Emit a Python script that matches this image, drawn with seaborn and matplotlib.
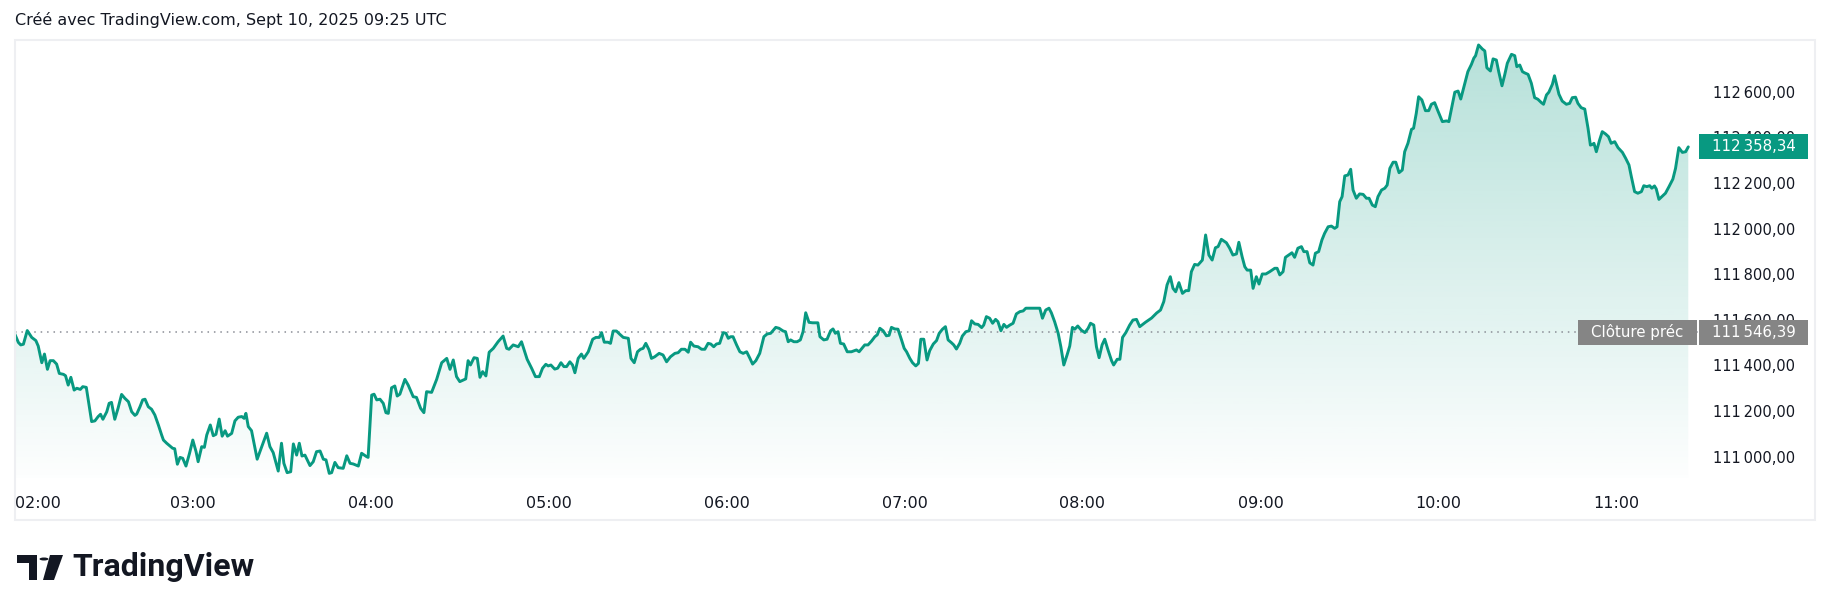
import numpy as np
import pandas as pd
import seaborn as sns
import matplotlib.pyplot as plt
from matplotlib.patches import Rectangle, Polygon, Circle
from matplotlib.colors import to_rgb
from matplotlib.transforms import IdentityTransform

sns.set_theme(style="white")
plt.rcParams['font.family'] = ['DejaVu Sans']

# minutes after 02:00 (UTC+2) and BTC price
minutes = [
    0.0, 1.3, 2.1, 3.0, 4.3, 5.8, 7.2, 8.0, 9.2, 10.1, 11.1, 12.0, 13.1, 14.2, 15.1, 16.5, 17.2, 18.1, 19.0, 20.1,
    21.0, 22.2, 23.0, 24.2, 26.0, 27.1, 28.2, 29.0, 29.8, 31.1, 31.9, 32.7, 33.8, 34.9, 36.1, 37.2, 38.4, 39.5, 40.6, 41.2,
    42.3, 43.2, 44.0, 45.1, 46.2, 47.3, 48.5, 49.6, 50.2, 51.3, 52.4, 53.3, 54.0, 54.9, 55.8, 56.7, 57.8, 59.0, 60.1, 61.2,
    61.9, 63.1, 64.0, 64.8, 66.0, 67.0, 67.9, 69.0, 70.0, 71.0, 71.8, 73.2, 74.3, 75.4, 76.6, 77.4, 78.0, 78.8, 79.9, 81.8,
    85.0, 86.1, 87.2, 88.9, 90.0, 90.8, 91.9, 93.1, 94.0, 95.1, 96.0, 96.9, 97.9, 99.6, 100.7, 101.8, 103.0, 104.1, 105.0, 106.1,
    106.9, 108.0, 109.1, 110.8, 112.0, 113.1, 114.2, 115.9, 117.0, 118.7, 119.2, 120.4, 121.2, 122.1, 123.2, 124.3, 125.2, 126.0, 127.1, 128.2,
    129.0, 129.9, 131.6, 132.7, 134.4, 135.5, 136.9, 138.0, 138.9, 140.6, 142.3, 144.0, 145.7, 146.8, 147.9, 149.0, 150.1, 152.1, 152.9, 153.7,
    154.9, 156.0, 156.9, 157.8, 158.9, 160.0, 161.4, 163.0, 164.7, 165.9, 166.7, 168.1, 169.8, 170.9, 172.8, 174.3, 175.6, 176.9, 178.0, 179.1,
    179.9, 180.8, 182.1, 183.1, 184.2, 185.2, 186.1, 187.2, 188.1, 188.9, 190.0, 191.1, 191.9, 193.4, 194.9, 196.0, 197.1, 197.9, 198.8, 200.0,
    200.9, 201.8, 202.9, 204.0, 205.2, 206.9, 207.8, 208.9, 210.0, 211.0, 211.9, 212.8, 213.9, 214.7, 215.8, 217.3, 218.6, 219.8, 221.1, 222.6,
    223.7, 224.8, 226.0, 227.1, 227.9, 229.0, 230.4, 231.6, 232.7, 233.8, 234.7, 235.7, 236.6, 237.7, 238.9, 239.8, 240.6, 241.4, 242.2, 243.4,
    244.5, 245.6, 246.8, 247.9, 248.8, 249.9, 251.2, 252.6, 253.7, 254.9, 256.6, 257.7, 259.1, 259.9, 260.8, 261.6, 262.7, 263.8, 264.9, 265.8,
    266.7, 267.8, 269.0, 270.8, 271.5, 272.8, 273.9, 275.1, 275.9, 276.7, 277.6, 278.4, 279.5, 280.7, 282.1, 283.8, 284.7, 286.6, 287.7, 288.9,
    290.0, 290.8, 291.7, 292.8, 293.9, 294.8, 295.6, 296.7, 297.8, 299.0, 299.9, 300.7, 301.8, 302.7, 303.8, 304.7, 305.5, 306.5, 307.6, 308.5,
    309.7, 310.8, 311.7, 312.8, 313.8, 314.7, 315.8, 316.6, 317.5, 318.6, 319.5, 320.7, 321.8, 322.6, 323.7, 324.8, 326.0, 326.7, 327.6, 328.7,
    329.7, 330.7, 331.5, 332.5, 333.5, 334.4, 335.5, 336.6, 337.7, 338.9, 340.0, 340.9, 342.8, 344.3, 345.6, 346.5, 347.6, 348.7, 349.5, 350.6,
    351.8, 352.7, 353.7, 354.8, 355.7, 356.6, 357.4, 358.4, 359.6, 360.8, 361.9, 362.7, 363.8, 364.7, 365.6, 366.6, 367.5, 368.6, 369.8, 370.5,
    371.7, 372.6, 373.5, 374.6, 375.9, 377.0, 378.2, 379.3, 381.3, 383.3, 385.0, 386.3, 387.4, 388.5, 389.6, 390.5, 391.4, 392.5, 393.7, 394.8,
    395.8, 396.7, 397.8, 398.9, 400.4, 401.5, 402.6, 403.7, 404.8, 405.7, 406.8, 408.5, 409.6, 410.7, 411.9, 412.7, 413.8, 414.7, 415.5, 416.7,
    417.5, 418.6, 419.5, 420.6, 421.8, 423.1, 424.8, 425.6, 426.5, 427.6, 428.4, 429.5, 430.6, 431.5, 432.6, 433.8, 434.6, 435.7, 436.6, 437.7,
    438.5, 439.6, 440.7, 441.6, 442.8, 443.9, 445.0, 445.8, 446.7, 447.5, 448.4, 449.5, 450.4, 451.2, 452.3, 453.4, 454.6, 455.7, 456.6, 457.7,
    458.7, 459.6, 460.8, 461.9, 462.7, 463.6, 464.7, 465.6, 466.7, 467.8, 468.6, 469.7, 470.9, 471.6, 472.5, 473.3, 474.4, 475.6, 476.7, 477.6,
    478.7, 479.8, 481.3, 482.7, 483.5, 485.5, 486.6, 487.5, 488.8, 489.9, 491.1, 491.9, 492.5, 493.5, 494.8, 495.6, 496.3, 497.5, 498.4, 499.5,
    500.3, 501.4, 502.3, 503.2, 504.6, 505.7, 506.4, 507.4, 508.3, 509.0, 510.2, 511.3, 512.4, 513.5, 514.7, 515.4, 516.4, 517.2, 518.4, 519.1,
    519.7, 520.6, 521.7, 523.1, 524.2, 525.1, 526.2, 527.0, 528.1, 529.3, 530.4, 531.2, 531.9, 532.4, 533.2, 534.3, 535.2, 536.3, 537.3, 538.2,
    539.4, 540.5, 542.0, 543.1, 544.2, 545.0, 546.1, 547.2, 548.4, 549.2, 550.2, 551.2, 551.9, 552.8, 553.4, 554.3, 555.5, 556.5, 557.7, 559.0,
    559.9, 561.0, 562.2, 563.3, 564.2,
]
prices = [
    111541, 111501, 111490, 111493, 111553, 111523, 111509, 111485, 111412, 111450, 111383, 111421, 111421, 111406, 111365, 111361, 111355, 111314, 111348, 111292,
    111300, 111295, 111307, 111304, 111154, 111157, 111176, 111186, 111164, 111197, 111234, 111238, 111164, 111212, 111273, 111256, 111241, 111197, 111181, 111187,
    111219, 111249, 111252, 111219, 111208, 111183, 111139, 111095, 111073, 111059, 111047, 111037, 111035, 110967, 110997, 110993, 110959, 111015, 111073, 111022,
    110978, 111044, 111041, 111095, 111139, 111092, 111098, 111165, 111090, 111114, 111090, 111102, 111157, 111173, 111176, 111168, 111190, 111132, 111114, 110989,
    111103, 111044, 111018, 110937, 111059, 110971, 110930, 110934, 111056, 111007, 111059, 111003, 111007, 110961, 110978, 111022, 111025, 110989, 110986, 110927,
    110930, 110975, 110952, 110949, 111004, 110971, 110968, 110959, 111015, 111000, 110997, 111270, 111274, 111249, 111252, 111234, 111193, 111190, 111302, 111310,
    111266, 111274, 111339, 111314, 111263, 111260, 111212, 111193, 111285, 111282, 111339, 111412, 111431, 111383, 111424, 111351, 111329, 111341, 111421, 111402,
    111434, 111431, 111348, 111373, 111354, 111458, 111475, 111504, 111529, 111475, 111471, 111490, 111482, 111504, 111427, 111388, 111351, 111351, 111388, 111405,
    111398, 111402, 111384, 111388, 111412, 111395, 111395, 111416, 111402, 111368, 111431, 111450, 111431, 111460, 111515, 111523, 111523, 111544, 111502, 111502,
    111497, 111551, 111551, 111537, 111523, 111519, 111431, 111412, 111460, 111471, 111475, 111497, 111468, 111431, 111438, 111453, 111446, 111416, 111438, 111453,
    111456, 111471, 111471, 111458, 111502, 111485, 111482, 111471, 111471, 111497, 111494, 111482, 111494, 111497, 111544, 111541, 111519, 111526, 111526, 111490,
    111460, 111453, 111460, 111431, 111406, 111421, 111453, 111526, 111538, 111541, 111567, 111563, 111551, 111548, 111504, 111512, 111504, 111504, 111512, 111548,
    111631, 111589, 111587, 111587, 111526, 111512, 111515, 111552, 111560, 111541, 111548, 111497, 111494, 111460, 111460, 111468, 111460, 111490, 111490, 111507,
    111526, 111534, 111563, 111552, 111530, 111532, 111567, 111560, 111559, 111512, 111475, 111460, 111431, 111412, 111398, 111409, 111515, 111515, 111424, 111465,
    111494, 111509, 111541, 111559, 111570, 111512, 111500, 111490, 111472, 111497, 111529, 111548, 111552, 111596, 111582, 111580, 111566, 111577, 111614, 111607,
    111585, 111602, 111592, 111552, 111580, 111567, 111577, 111585, 111626, 111636, 111639, 111651, 111651, 111651, 111651, 111607, 111643, 111651, 111631, 111592,
    111541, 111482, 111402, 111446, 111485, 111567, 111559, 111573, 111555, 111544, 111563, 111585, 111577, 111482, 111434, 111490, 111515, 111468, 111421, 111402,
    111427, 111427, 111523, 111544, 111577, 111599, 111602, 111570, 111590, 111608, 111630, 111643, 111680, 111753, 111789, 111738, 111723, 111763, 111716, 111728,
    111728, 111811, 111843, 111840, 111862, 111972, 111884, 111862, 111916, 111921, 111953, 111938, 111914, 111884, 111889, 111940, 111877, 111833, 111818, 111818,
    111738, 111789, 111757, 111801, 111801, 111811, 111826, 111826, 111797, 111811, 111874, 111884, 111894, 111874, 111914, 111921, 111899, 111899, 111850, 111840,
    111892, 111899, 111950, 111979, 112008, 112011, 112001, 112008, 112118, 112140, 112231, 112235, 112260, 112169, 112133, 112152, 112150, 112133, 112133, 112103,
    112096, 112140, 112169, 112177, 112191, 112264, 112291, 112291, 112245, 112257, 112337, 112374, 112435, 112440, 112505, 112578, 112564, 112517, 112517, 112545,
    112552, 112516, 112469, 112472, 112469, 112598, 112603, 112568, 112633, 112688, 112720, 112747, 112758, 112805, 112787, 112779, 112705, 112691, 112744, 112739,
    112688, 112626, 112673, 112725, 112764, 112758, 112710, 112717, 112688, 112683, 112676, 112637, 112574, 112567, 112552, 112545, 112586, 112598, 112633, 112670,
    112637, 112589, 112559, 112545, 112549, 112574, 112576, 112549, 112530, 112524, 112440, 112366, 112369, 112374, 112337, 112388, 112425, 112415, 112403, 112374,
    112381, 112355, 112334, 112308, 112279, 112228, 112162, 112155, 112162, 112188, 112184, 112188, 112177, 112187, 112174, 112128, 112143, 112155, 112184, 112217,
    112264, 112355, 112334, 112337, 112358.34,
]
hour_labels = ["02:00", "03:00", "04:00", "05:00", "06:00", "07:00", "08:00", "09:00", "10:00", "11:00"]
price_ticks = [111000, 111200, 111400, 111600, 111800, 112000, 112200, 112400, 112600]
price_labels = ["111\u202f000,00", "111\u202f200,00", "111\u202f400,00", "111\u202f600,00", "111\u202f800,00",
                "112\u202f000,00", "112\u202f200,00", "112\u202f400,00", "112\u202f600,00"]
prev_close = 111546.39
last_price = 112358.34
prev_close_text = "111\u202f546,39"
last_price_text = "112\u202f358,34"
title = "Créé avec TradingView.com, Sept 10, 2025 09:25 UTC"

df = pd.DataFrame({"minute": minutes, "price": prices})

GREEN = "#089981"
GREY = "#858585"
INK = "#131722"
W, H = 1830, 611

fig = plt.figure(figsize=(W / 100, H / 100), dpi=100, facecolor="white")
def fx(px):
    return px / W
def fy(py):
    return 1 - py / H

ax = fig.add_axes([fx(14.5), fy(478), fx(1700) - fx(14.5), fy(40) - fy(478)])
ax.set_facecolor("white")
x_lo, x_hi = 0, (1700 - 14.5) * 60 / 178
y_lo, y_hi = 110906.6, 112826.8

# gradient area under the line
rgb = np.array(to_rgb(GREEN))
grad = np.zeros((256, 1, 4))
grad[:, 0, :3] = rgb
grad[:, 0, 3] = np.linspace(0.01, 0.30, 256)
im = ax.imshow(grad, extent=[x_lo, x_hi, y_lo, y_hi], origin="lower", aspect="auto", zorder=1)
clip = Polygon([(df.minute.iloc[0], y_lo)] + list(zip(df.minute, df.price)) + [(df.minute.iloc[-1], y_lo)],
               closed=True, transform=ax.transData, facecolor="none", edgecolor="none")
ax.add_patch(clip)
im.set_clip_path(clip)

ax.axhline(prev_close, color="#8a8d96", lw=1.1, ls=(0, (1, 3.2)), zorder=2)
sns.lineplot(data=df, x="minute", y="price", ax=ax, color=GREEN, lw=2.1, zorder=3, sort=False)

ax.set_xlim(x_lo, x_hi)
ax.set_ylim(y_lo, y_hi)
ax.set_xlabel("")
ax.set_ylabel("")
for s in ax.spines.values():
    s.set_visible(False)
ax.set_xticks([60 * i for i in range(len(hour_labels))])
ax.set_xticklabels(hour_labels)
ax.tick_params(axis="x", length=0, pad=13, labelsize=11.5, labelcolor=INK)
ax.get_xticklabels()[0].set_horizontalalignment("left")
ax.yaxis.tick_right()
ax.set_yticks(price_ticks)
ax.set_yticklabels(price_labels)
ax.tick_params(axis="y", length=0, pad=9.5, labelsize=10.5, labelcolor=INK)
ax.grid(False)

# pane border
fig.patches.append(Rectangle((fx(15), fy(520)), fx(1815) - fx(15), fy(40) - fy(520), transform=fig.transFigure,
                             facecolor="none", edgecolor="#eeeff2", lw=1.5, zorder=0))

fig.text(fx(15), fy(20), title, fontsize=11.5, color=INK, va="center", ha="left")

# price badges
fig.canvas.draw()
def badge(x0, x1, value, text, color):
    yc = ax.transData.transform((0, value))[1]
    h = 25
    fig.patches.append(Rectangle((x0, yc - h / 2), x1 - x0, h, transform=IdentityTransform(),
                                 facecolor=color, edgecolor="none", zorder=5))
    fig.text((x0 + x1) / 2 / W, yc / H, text, color="white", fontsize=10.8, ha="center", va="center", zorder=6)

badge(1578, 1697, prev_close, "Clôture préc", GREY)
badge(1699, 1808, prev_close, prev_close_text, GREY)
badge(1699, 1808, last_price, last_price_text, GREEN)

# TradingView logo
logo = "#131722"
fig.patches.append(Polygon([(fx(17), fy(555)), (fx(37), fy(555)), (fx(37), fy(580)), (fx(29), fy(580)),
                            (fx(29), fy(563)), (fx(17), fy(563))], closed=True, transform=fig.transFigure,
                           facecolor=logo, edgecolor="none"))
fig.patches.append(Circle((fx(44), fy(559)), 4.5 / W, transform=fig.transFigure, facecolor=logo, edgecolor="none"))
fig.patches.append(Polygon([(fx(50), fy(555)), (fx(63), fy(555)), (fx(54), fy(580)), (fx(43), fy(580))],
                           closed=True, transform=fig.transFigure, facecolor=logo, edgecolor="none"))
fig.text(fx(72), fy(567), "TradingView", fontsize=23, fontweight="bold", color=logo, va="center", ha="left",
         family=["Roboto", "DejaVu Sans"])

fig.savefig("out.png", dpi=100, facecolor="white")
